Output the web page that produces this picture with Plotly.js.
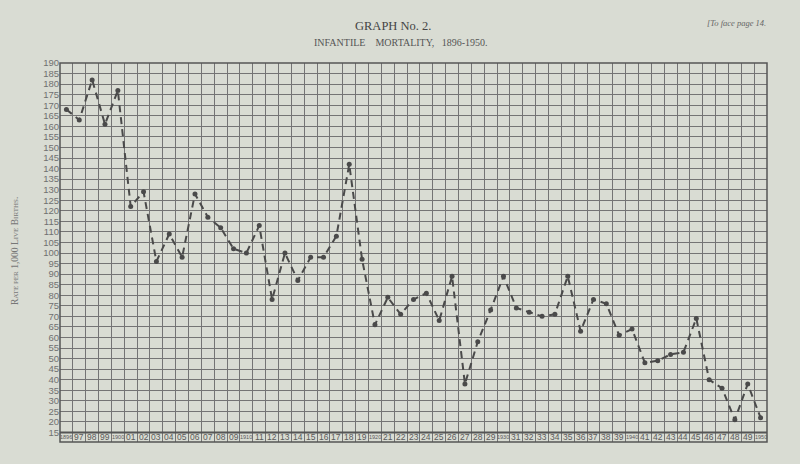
<!DOCTYPE html>
<html>
<head>
<meta charset="utf-8">
<script src="https://cdn.plot.ly/plotly-3.0.1.min.js"></script>
<style>
html,body{margin:0;padding:0;background:#d9dcd3;}
#chart{width:800px;height:464px;}
</style>
</head>
<body>
<div id="chart"></div>
<script>
const years = [1896,1897,1898,1899,1900,1901,1902,1903,1904,1905,1906,1907,1908,1909,1910,1911,1912,1913,1914,1915,1916,1917,1918,1919,1920,1921,1922,1923,1924,1925,1926,1927,1928,1929,1930,1931,1932,1933,1934,1935,1936,1937,1938,1939,1940,1941,1942,1943,1944,1945,1946,1947,1948,1949,1950];
const rates = [168,163,182,161,177,122,129,96,109,98,128,117,112,102,100,113,78,100,87,98,98,108,142,97,66,79,71,78,81,68,89,38,58,73,89,74,72,70,71,89,63,78,76,61,64,48,49,52,53,69,40,36,21,38,22];
const yearLabels = years.map(y => (y % 10 === 0 || y === 1896) ? String(y) : String(y).slice(2));

const idx = years.map((_, i) => i);
const bg = '#d9dcd3';
const ink = '#4a4a4a';

const annotations = yearLabels.map((t, i) => ({
  x: i, y: 12.75, xref: 'x', yref: 'y', text: t, showarrow: false,
  font: {family: 'Liberation Sans, Arial, sans-serif', size: t.length === 4 ? 5.5 : 8.5, color: '#5a5a5a'},
  xanchor: 'center', yanchor: 'middle'
}));
const sc = s => '<span style="font-size:7px">' + s + '</span>';
annotations.push(
  {text: 'GRAPH No. 2.', px: 393, py: 26, font: {family: 'Liberation Serif, DejaVu Serif, serif', size: 12.5, color: '#444'}},
  {text: 'INFANTILE&nbsp;&nbsp;&nbsp; MORTALITY,&nbsp;&nbsp; 1896-1950.', px: 401, py: 43,
   font: {family: 'Liberation Serif, DejaVu Serif, serif', size: 10, color: '#555'}},
  {text: '<i>[To face page 14.</i>', px: 736, py: 23,
   font: {family: 'Liberation Serif, DejaVu Serif, serif', size: 8.5, color: '#666'}},
  {text: 'R' + sc('ATE PER') + ' 1,000 L' + sc('IVE') + ' B' + sc('IRTHS') + '.', px: 15, py: 251, textangle: -90,
   font: {family: 'Liberation Serif, DejaVu Serif, serif', size: 9.5, color: '#777'}}
);
annotations.forEach(a => {
  if (a.px !== undefined) {
    a.xref = 'paper'; a.yref = 'paper';
    a.x = (a.px - 60) / 707; a.y = (442 - a.py) / 379;
    a.xanchor = 'center'; a.yanchor = 'middle'; a.showarrow = false;
    delete a.px; delete a.py;
  }
});

const trace = {
  x: idx, y: rates, type: 'scatter', mode: 'lines+markers',
  line: {color: ink, width: 2, dash: '7px,5px'},
  marker: {color: ink, size: 5},
  hoverinfo: 'skip'
};

const layout = {
  width: 800, height: 464,
  margin: {l: 60, r: 33, t: 63, b: 22},
  paper_bgcolor: bg, plot_bgcolor: bg,
  showlegend: false,
  xaxis: {
    range: [-0.5, years.length - 0.5], tickmode: 'linear', tick0: -0.5, dtick: 1,
    showgrid: true, gridcolor: '#747474', gridwidth: 1,
    showticklabels: false, ticks: '', zeroline: false, showline: false, fixedrange: true
  },
  yaxis: {
    range: [10.5, 190], tickmode: 'linear', tick0: 0, dtick: 5,
    showgrid: true, gridcolor: '#747474', gridwidth: 1,
    ticks: '', zeroline: false, showline: false, fixedrange: true,
    tickfont: {family: 'Liberation Sans, Arial, sans-serif', size: 9.5, color: '#707070'}
  },
  shapes: [
    {type: 'rect', xref: 'paper', yref: 'paper', x0: 0, x1: 1, y0: 0, y1: 1, line: {color: '#555', width: 1.5}},
    {type: 'line', xref: 'paper', yref: 'y', x0: 0, x1: 1, y0: 15, y1: 15, line: {color: '#555', width: 2}}
  ],
  annotations: annotations
};

Plotly.newPlot('chart', [trace], layout, {staticPlot: true, displayModeBar: false});
</script>
</body>
</html>
